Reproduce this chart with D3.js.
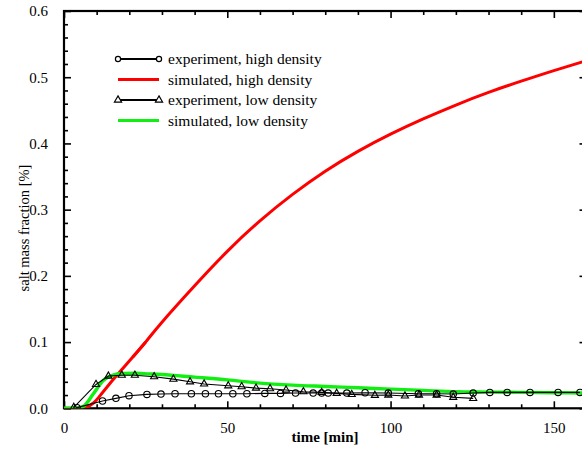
<!DOCTYPE html>
<html><head><meta charset="utf-8">
<script src="https://cdn.jsdelivr.net/npm/d3@7"></script>
<style>body{margin:0;background:#fff}svg{display:block}text{font-family:"Liberation Serif","Times New Roman",serif;fill:#000}</style>
</head><body>
<script>
// ---- data ----
const expHighT = [4, 11.8, 15.9, 19.9, 25.4, 29.7, 34, 39, 43.3, 47.3, 51.7, 56, 61.5, 66.3, 70.9, 76.3, 78.9, 80.9, 86.6, 92.2, 99.3, 108.5, 114.1, 119.2, 125.3, 130.4, 135.7, 142.7, 151.3, 158];
const expHighV = [0.001, 0.011, 0.015, 0.019, 0.021, 0.0215, 0.022, 0.022, 0.022, 0.022, 0.022, 0.022, 0.0225, 0.0225, 0.023, 0.023, 0.023, 0.023, 0.023, 0.0235, 0.023, 0.022, 0.022, 0.0215, 0.023, 0.024, 0.024, 0.024, 0.024, 0.024];
const expLowT = [3, 9.8, 13.6, 17.7, 21.7, 27.6, 33.5, 38.6, 42.9, 50.3, 54.4, 58.8, 63.1, 68, 73.3, 78.9, 83.5, 88.1, 95.2, 99.3, 104.4, 108.7, 114.1, 119.2, 125.3];
const expLowV = [0.0015, 0.036, 0.0487, 0.050, 0.050, 0.0477, 0.044, 0.040, 0.0367, 0.034, 0.0326, 0.0305, 0.0296, 0.0276, 0.025, 0.024, 0.0226, 0.021, 0.0196, 0.020, 0.0186, 0.020, 0.020, 0.0166, 0.015];
const simHighT = [0, 5, 7, 9, 12, 15, 18, 21, 25, 30, 40, 50, 60, 70, 80, 90, 100, 110, 120, 130, 140, 150, 160];
const simHighV = [0, 0, 0.002, 0.008, 0.025, 0.043, 0.060, 0.077, 0.100, 0.130, 0.185, 0.237, 0.283, 0.323, 0.358, 0.388, 0.414, 0.437, 0.458, 0.477, 0.494, 0.510, 0.525];
const simLowT = [0, 4, 6, 9, 12, 15, 18, 22, 26, 30, 40, 50, 60, 70, 80, 90, 100, 110, 120, 130, 140, 150, 160];
const simLowV = [0, 0, 0.003, 0.022, 0.042, 0.050, 0.0525, 0.053, 0.052, 0.051, 0.047, 0.043, 0.038, 0.035, 0.033, 0.031, 0.029, 0.027, 0.025, 0.0245, 0.024, 0.0235, 0.023];
const xMajorTicks = [0, 50, 100, 150];
const yMajorTicks = [0, 0.1, 0.2, 0.3, 0.4, 0.5, 0.6];
const legendLabels = ["experiment, high density", "simulated, high density", "experiment, low density", "simulated, low density"];
const xTitle = "time [min]";
const yTitle = "salt mass fraction [%]";

// ---- layout ----
const W = 582, H = 449;
const L = 64, R = 586.5, T = 11, B = 408.3;
const x = d3.scaleLinear().domain([0, 160]).range([L, R]);
const y = d3.scaleLinear().domain([0, 0.6]).range([B, T]);
const RED = "#ff0000", GREEN = "#11ee11";

const svg = d3.select("body").append("svg").attr("width", W).attr("height", H);
svg.append("defs").append("clipPath").attr("id", "clip")
  .append("rect").attr("x", L).attr("y", T).attr("width", R - L).attr("height", B - T);

function axisStyle(g) {
  g.select(".domain").remove();
  g.selectAll(".tick line").attr("stroke", "#000").attr("stroke-width", 1.6);
  g.selectAll("text").style("font-size", "15px");
}
const xMinor = d3.range(0, 161, 10).filter(v => v % 50 !== 0);
const yMinor = d3.range(0, 0.6001, 0.02).filter(v => Math.abs(v * 10 - Math.round(v * 10)) > 1e-6);

svg.append("g").attr("transform", `translate(0,${B})`)
  .call(d3.axisBottom(x).tickValues(xMajorTicks).tickSize(-7).tickPadding(14).tickFormat(d3.format("d")))
  .call(axisStyle);
svg.append("g").attr("transform", `translate(0,${B})`)
  .call(d3.axisBottom(x).tickValues(xMinor).tickSize(-4).tickFormat(""))
  .call(axisStyle);
svg.append("g").attr("transform", `translate(0,${T})`)
  .call(d3.axisTop(x).tickValues(xMajorTicks).tickSize(-7).tickFormat(""))
  .call(axisStyle);
svg.append("g").attr("transform", `translate(0,${T})`)
  .call(d3.axisTop(x).tickValues(xMinor).tickSize(-4).tickFormat(""))
  .call(axisStyle);
svg.append("g").attr("transform", `translate(${L},0)`)
  .call(d3.axisLeft(y).tickValues(yMajorTicks).tickSize(-7).tickPadding(16).tickFormat(d3.format(".1f")))
  .call(axisStyle);
svg.append("g").attr("transform", `translate(${L},0)`)
  .call(d3.axisLeft(y).tickValues(yMinor).tickSize(-4).tickFormat(""))
  .call(axisStyle);
svg.append("g").attr("transform", `translate(${R},0)`)
  .call(d3.axisRight(y).tickValues(yMajorTicks).tickSize(-7).tickFormat(""))
  .call(axisStyle);
svg.append("g").attr("transform", `translate(${R},0)`)
  .call(d3.axisRight(y).tickValues(yMinor).tickSize(-4).tickFormat(""))
  .call(axisStyle);

svg.append("rect").attr("x", L).attr("y", T).attr("width", R - L).attr("height", B - T)
  .attr("fill", "none").attr("stroke", "#000").attr("stroke-width", 2.2);

svg.append("text").attr("x", 325).attr("y", 442).attr("text-anchor", "middle")
  .style("font-size", "15px").style("font-weight", "bold").text(xTitle);
svg.append("text").attr("transform", "translate(29,228) rotate(-90)").attr("text-anchor", "middle")
  .style("font-size", "14.5px").text(yTitle);

const plot = svg.append("g").attr("clip-path", "url(#clip)");
const zip = (a, b) => a.map((t, i) => [t, b[i]]);
const smooth = d3.line().x(d => x(d[0])).y(d => y(d[1])).curve(d3.curveMonotoneX);
const natural = d3.line().x(d => x(d[0])).y(d => y(d[1])).curve(d3.curveNatural);
const straight = d3.line().x(d => x(d[0])).y(d => y(d[1]));
const tri = d3.symbol().type(d3.symbolTriangle).size(22);

// red: flat segment, monotone start, then natural spline for a smooth arc
const redPts = zip(simHighT, simHighV);
plot.append("path").datum(redPts.slice(0, 2)).attr("d", straight)
  .attr("fill", "none").attr("stroke", RED).attr("stroke-width", 3);
plot.append("path").datum(redPts.slice(1, 9)).attr("d", smooth)
  .attr("fill", "none").attr("stroke", RED).attr("stroke-width", 3);
plot.append("path").datum(redPts.slice(7)).attr("d", natural)
  .attr("fill", "none").attr("stroke", RED).attr("stroke-width", 3);
plot.append("path").datum(zip(simLowT, simLowV)).attr("d", smooth)
  .attr("fill", "none").attr("stroke", GREEN).attr("stroke-width", 3.4);

plot.append("path").datum(zip(expHighT, expHighV)).attr("d", straight)
  .attr("fill", "none").attr("stroke", "#000").attr("stroke-width", 1.1);
plot.selectAll(".c").data(zip(expHighT, expHighV)).join("circle")
  .attr("cx", d => x(d[0])).attr("cy", d => y(d[1])).attr("r", 3.2)
  .attr("fill", "none").attr("stroke", "#000").attr("stroke-width", 1.1);

plot.append("path").datum(zip(expLowT, expLowV)).attr("d", straight)
  .attr("fill", "none").attr("stroke", "#000").attr("stroke-width", 1.1);
plot.selectAll(".t").data(zip(expLowT, expLowV)).join("path")
  .attr("d", tri).attr("transform", d => `translate(${x(d[0])},${y(d[1])})`)
  .attr("fill", "none").attr("stroke", "#000").attr("stroke-width", 1.1);

const lg = svg.append("g");
const rowY = [59, 79.5, 100, 120.5];
const styles = [
  {stroke: "#000", w: 2, m: "c"}, {stroke: RED, w: 3, m: null},
  {stroke: "#000", w: 2, m: "t"}, {stroke: GREEN, w: 3, m: null}
];
legendLabels.forEach((lab, i) => {
  const s = styles[i], yy = rowY[i];
  lg.append("line").attr("x1", 118).attr("x2", 159).attr("y1", yy).attr("y2", yy)
    .attr("stroke", s.stroke).attr("stroke-width", s.w);
  [118, 159].forEach(xx => {
    if (s.m === "c") lg.append("circle").attr("cx", xx).attr("cy", yy).attr("r", 2.6)
      .attr("fill", "#fff").attr("stroke", "#000").attr("stroke-width", 1.2);
    if (s.m === "t") lg.append("path").attr("d", tri).attr("transform", `translate(${xx},${yy})`)
      .attr("fill", "#fff").attr("stroke", "#000").attr("stroke-width", 1.2);
  });
  lg.append("text").attr("x", 168).attr("y", yy + 5).style("font-size", "15.5px").text(lab);
});
</script>
</body></html>
